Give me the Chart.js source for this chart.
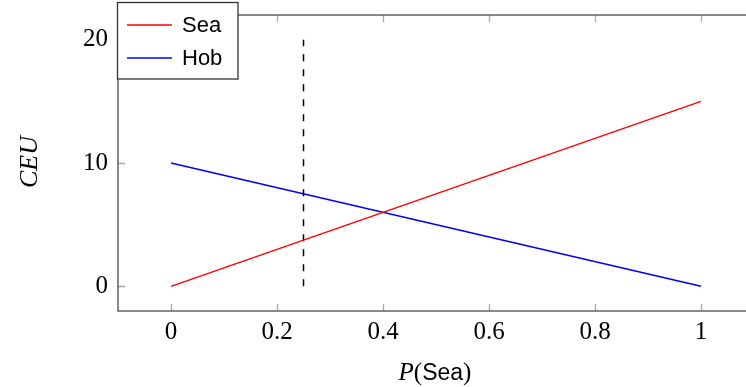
<!DOCTYPE html>
<html>
<head>
<meta charset="utf-8">
<script src="https://cdn.jsdelivr.net/npm/chart.js@4"></script>
<style>
  html, body { margin: 0; padding: 0; overflow: hidden; background: #fff; }
  #wrap { width: 770px; height: 387px; }
</style>
</head>
<body>
<div id="wrap"><canvas id="ceuChart" width="770" height="387"></canvas></div>
<script>
// chart data
var pSea = [0, 1];
var seaCEU = [0, 15];
var hobCEU = [10, 0];
var cutoffX = [0.25, 0.25];
var cutoffY = [0, 20];
var xTicks = [0, 0.2, 0.4, 0.6, 0.8, 1];
var yTicks = [0, 10, 20];
var seriesNames = ['Sea', 'Hob'];
var seriesColors = ['#ff0000', '#0000ff'];

function toPoints(xs, ys) {
    return xs.map(function (x, i) { return { x: x, y: ys[i] }; });
}

var serif = '"Liberation Serif", "DejaVu Serif", serif';
var sans = '"Liberation Sans", "DejaVu Sans", sans-serif';

// frame, inner ticks, legend box and axis titles
var frameAndExtras = {
    id: 'frameAndExtras',
    afterDraw: function (chart) {
        var ctx = chart.ctx, a = chart.chartArea;
        var xs = chart.scales.x, ys = chart.scales.y;
        ctx.save();

        // tick marks pointing inward on all four sides
        ctx.strokeStyle = '#a8a8a8';
        ctx.lineWidth = 1.3;
        ctx.beginPath();
        xTicks.forEach(function (v) {
            var px = Math.round(xs.getPixelForValue(v)) + 0.5;
            ctx.moveTo(px, a.bottom); ctx.lineTo(px, a.bottom - 7);
            ctx.moveTo(px, a.top); ctx.lineTo(px, a.top + 7);
        });
        yTicks.forEach(function (v) {
            var py = Math.round(ys.getPixelForValue(v)) + 0.5;
            ctx.moveTo(a.left, py); ctx.lineTo(a.left + 7, py);
            ctx.moveTo(a.right, py); ctx.lineTo(a.right - 7, py);
        });
        ctx.stroke();

        // frame
        ctx.strokeStyle = '#4a4a4a';
        ctx.lineWidth = 1.3;
        ctx.strokeRect(a.left, a.top, a.right - a.left, a.bottom - a.top);

        // legend
        ctx.fillStyle = '#fff';
        ctx.fillRect(117.5, 2.5, 120.5, 76.5);
        ctx.strokeStyle = '#333';
        ctx.strokeRect(117.5, 2.5, 120.5, 76.5);
        ctx.font = '22px ' + sans;
        ctx.textBaseline = 'middle';
        ctx.textAlign = 'left';
        seriesNames.forEach(function (name, i) {
            var y = 25 + i * 33;
            ctx.strokeStyle = seriesColors[i];
            ctx.lineWidth = 1.5;
            ctx.beginPath();
            ctx.moveTo(127, y); ctx.lineTo(172, y);
            ctx.stroke();
            ctx.fillStyle = '#000';
            ctx.fillText(name, 182, y + 1);
        });

        // x axis title: P(Sea)
        ctx.textBaseline = 'alphabetic';
        var parts = [
            { t: 'P', f: 'italic 25px ' + serif },
            { t: '(', f: '25px ' + serif },
            { t: 'Sea', f: '23px ' + sans },
            { t: ')', f: '25px ' + serif }
        ];
        var total = 0;
        parts.forEach(function (p) { ctx.font = p.f; p.w = ctx.measureText(p.t).width; total += p.w; });
        var x = 435 - total / 2;
        parts.forEach(function (p) { ctx.font = p.f; ctx.fillText(p.t, x, 380); x += p.w; });

        // y axis title: CEU
        ctx.translate(37, 162);
        ctx.rotate(-Math.PI / 2);
        ctx.textAlign = 'center';
        ctx.font = 'italic 26px ' + serif;
        ctx.fillText('CEU', 0, 0);

        ctx.restore();
    }
};

var ctx1 = document.getElementById('ceuChart').getContext('2d');
var ceuChart = new Chart(ctx1, {
    type: 'scatter',
    data: {
        datasets: [{
            label: seriesNames[0],
            data: toPoints(pSea, seaCEU),
            borderColor: seriesColors[0],
            borderWidth: 1.5,
            showLine: true,
            pointRadius: 0
        }, {
            label: seriesNames[1],
            data: toPoints(pSea, hobCEU),
            borderColor: seriesColors[1],
            borderWidth: 1.5,
            showLine: true,
            pointRadius: 0
        }, {
            label: 'cutoff',
            data: toPoints(cutoffX, cutoffY),
            borderColor: '#000',
            borderWidth: 1.5,
            borderDash: [7, 8],
            showLine: true,
            pointRadius: 0
        }]
    },
    options: {
        responsive: false,
        animation: false,
        layout: { padding: { left: 0, right: 16, top: 15, bottom: 0 } },
        plugins: {
            legend: { display: false },
            tooltip: { enabled: false }
        },
        scales: {
            x: {
                type: 'linear',
                min: -0.1,
                max: 1.1,
                afterBuildTicks: function (s) { s.ticks = xTicks.map(function (v) { return { value: v }; }); },
                afterFit: function (s) { s.height = 76; s.paddingLeft = 0; s.paddingRight = 0; },
                grid: { display: false, drawTicks: false },
                border: { display: false },
                ticks: {
                    padding: 6,
                    color: '#000',
                    font: { family: serif, size: 25 },
                    maxRotation: 0,
                    callback: function (v) { return String(v); }
                }
            },
            y: {
                type: 'linear',
                min: -2,
                max: 22,
                afterBuildTicks: function (s) { s.ticks = yTicks.map(function (v) { return { value: v }; }); },
                afterFit: function (s) { s.width = 118; s.paddingTop = 0; s.paddingBottom = 0; },
                grid: { display: false, drawTicks: false },
                border: { display: false },
                ticks: {
                    padding: 10,
                    color: '#000',
                    font: { family: serif, size: 25 },
                    callback: function (v) { return String(v); }
                }
            }
        }
    },
    plugins: [frameAndExtras]
});
</script>
</body>
</html>
